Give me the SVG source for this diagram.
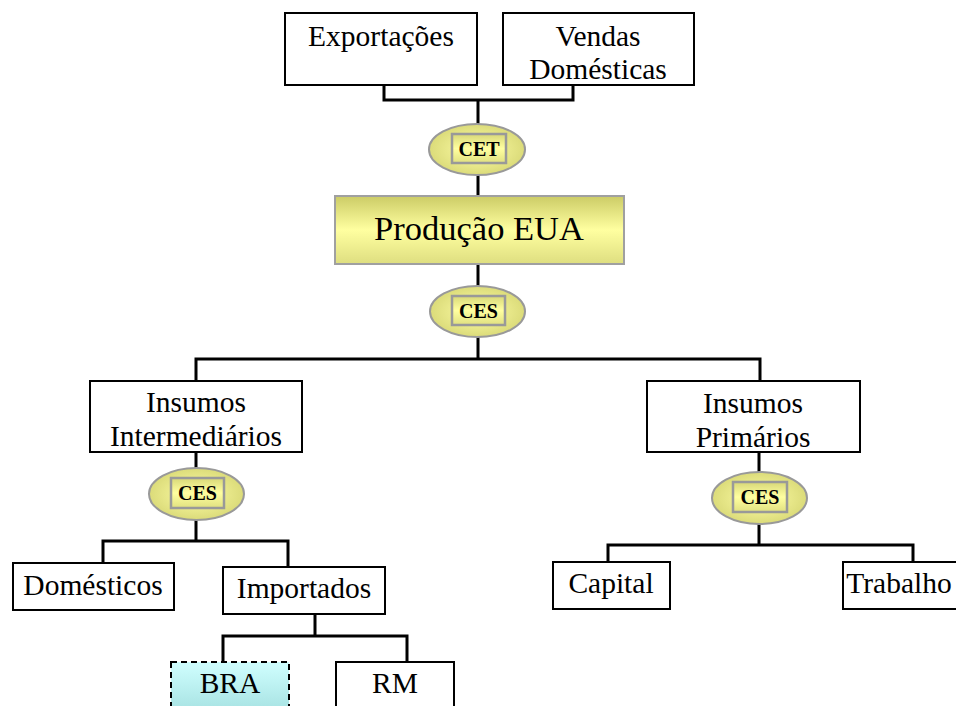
<svg xmlns="http://www.w3.org/2000/svg" width="956" height="706" viewBox="0 0 956 706">
<style>
.box{fill:#fff;stroke:#000;stroke-width:2}
.t{font-family:"Liberation Serif","Times New Roman",serif;font-size:29.5px;fill:#000;text-anchor:middle}
.tb{font-family:"Liberation Serif","Times New Roman",serif;font-size:20px;font-weight:bold;fill:#000;text-anchor:middle}
.ell{fill:url(#gEll);stroke:#999;stroke-width:2}
.inner{fill:url(#gIn);stroke:#999;stroke-width:2.5}
.conn{fill:none;stroke:#000;stroke-width:3}
</style>
<defs>
<radialGradient id="gEll" cx="0.5" cy="0.5" r="0.6">
<stop offset="0" stop-color="#ffffa8"/>
<stop offset="1" stop-color="#d4d470"/>
</radialGradient>
<linearGradient id="gIn" x1="0" y1="0" x2="0" y2="1">
<stop offset="0" stop-color="#d8d878"/>
<stop offset="0.5" stop-color="#ffffa0"/>
<stop offset="1" stop-color="#e0e080"/>
</linearGradient>
<linearGradient id="gProd" x1="0" y1="0" x2="0" y2="1">
<stop offset="0" stop-color="#cccc66"/>
<stop offset="0.5" stop-color="#ffffa0"/>
<stop offset="1" stop-color="#dede80"/>
</linearGradient>
<linearGradient id="gBra" x1="0" y1="0" x2="0" y2="1">
<stop offset="0" stop-color="#d0ffff"/>
<stop offset="1" stop-color="#9edcdc"/>
</linearGradient>
</defs>
<g id="connectors">
<path class="conn" d="M384,85 V100 H573 V85 M478,100 V124"/>
<path class="conn" d="M478,175 V196"/>
<path class="conn" d="M478,264 V286"/>
<path class="conn" d="M478,337 V359 M196,381 V359 H760 V381"/>
<path class="conn" d="M196,452 V468"/>
<path class="conn" d="M196,520 V541 M103,563 V541 H288 V567"/>
<path class="conn" d="M315,614 V636 M223,662 V636 H407 V662"/>
<path class="conn" d="M759,452 V472"/>
<path class="conn" d="M759,524 V545 M608,562 V545 H913 V562"/>
</g>
<g id="exportacoes">
<rect class="box" x="285" y="13" width="192" height="72"/>
<text class="t" x="381" y="46">Exportações</text>
</g>
<g id="vendas">
<rect class="box" x="503" y="13" width="191" height="72"/>
<text class="t" x="598" y="46">Vendas</text>
<text class="t" x="598" y="79">Domésticas</text>
</g>
<g id="cet">
<ellipse class="ell" cx="477" cy="149.5" rx="48" ry="25.5"/>
<rect class="inner" x="452" y="134" width="54" height="29"/>
<text class="tb" x="479" y="156">CET</text>
</g>
<g id="producao">
<rect x="335" y="196" width="289" height="68" fill="url(#gProd)" stroke="#a0a0a0" stroke-width="2"/>
<text class="t" x="479" y="240" style="font-size:34.5px">Produção EUA</text>
</g>
<g id="ces-top">
<ellipse class="ell" cx="477.5" cy="311.5" rx="47.5" ry="25.5"/>
<rect class="inner" x="452" y="296" width="53" height="29"/>
<text class="tb" x="478.5" y="318">CES</text>
</g>
<g id="insumos-intermediarios">
<rect class="box" x="90" y="381" width="212" height="71"/>
<text class="t" x="196" y="412">Insumos</text>
<text class="t" x="196" y="446">Intermediários</text>
</g>
<g id="ces-inter">
<ellipse class="ell" cx="196.5" cy="494" rx="47.5" ry="26"/>
<rect class="inner" x="171" y="478" width="53" height="30"/>
<text class="tb" x="197.5" y="500">CES</text>
</g>
<g id="insumos-primarios">
<rect class="box" x="647" y="381" width="213" height="71"/>
<text class="t" x="753" y="413">Insumos</text>
<text class="t" x="753" y="447">Primários</text>
</g>
<g id="ces-prim">
<ellipse class="ell" cx="759.5" cy="498" rx="47.5" ry="26"/>
<rect class="inner" x="733" y="482" width="54" height="30"/>
<text class="tb" x="760" y="504">CES</text>
</g>
<g id="domesticos">
<rect class="box" x="13" y="563" width="161" height="47"/>
<text class="t" x="93" y="595">Domésticos</text>
</g>
<g id="importados">
<rect class="box" x="223" y="567" width="162" height="47"/>
<text class="t" x="304" y="598">Importados</text>
</g>
<g id="capital">
<rect class="box" x="553" y="562" width="117" height="47"/>
<text class="t" x="611" y="593">Capital</text>
</g>
<g id="trabalho">
<rect class="box" x="843" y="562" width="130" height="47"/>
<text class="t" x="899" y="593">Trabalho</text>
</g>
<g id="bra">
<rect x="171" y="662" width="118" height="60" fill="url(#gBra)" stroke="#000" stroke-width="2" stroke-dasharray="6,4"/>
<text class="t" x="230" y="693">BRA</text>
</g>
<g id="rm">
<rect class="box" x="336" y="662" width="118" height="60"/>
<text class="t" x="395" y="693">RM</text>
</g>
</svg>
